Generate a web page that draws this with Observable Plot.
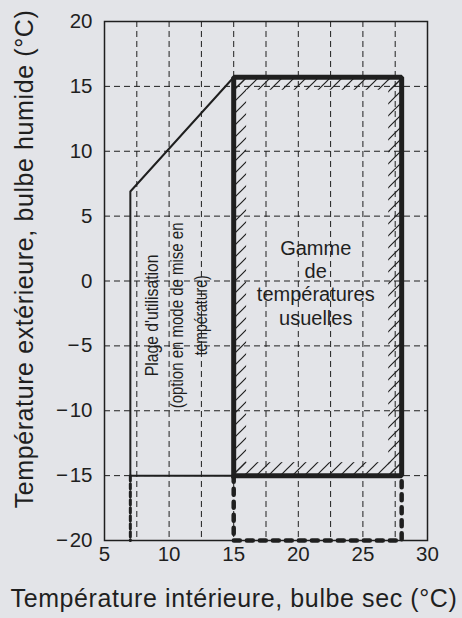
<!DOCTYPE html>
<html><head><meta charset="utf-8">
<script src="https://cdn.jsdelivr.net/npm/d3@7"></script>
<script src="https://cdn.jsdelivr.net/npm/@observablehq/plot@0.6"></script>
<style>
html,body{margin:0;padding:0;background:#e3e4e8;}
#chart svg{display:block;}
</style></head><body><div id="chart"></div>
<script>
// ---- data ----
const xTicks = [5, 10, 15, 20, 25, 30];
const yTicks = [-20, -15, -10, -5, 0, 5, 10, 15, 20];
const gridX = [7.5, 10, 12.5, 15, 17.5, 20, 22.5, 25, 27.5];
const gridY = [-15, -10, -5, 0, 5, 10, 15];
// operating range (thin outline)
const operX = [15, 7, 7, 15];
const operY = [-15, -15, 6.9, 15.7];
// usual range (thick rectangle)
const usualX = [15, 15, 28, 28, 15];
const usualY = [-15, 15.7, 15.7, -15, -15];
// extension below -15 (thick dashed)
const extX = [15, 15, 28, 28];
const extY = [-15, -20, -20, -15];
const operExtX = [7, 7];
const operExtY = [-15, -20];
const hatchBand = 1;
const usualLabel = ["Gamme", "de", "températures", "usuelles"];
const usualLabelAt = [21.35, -0.1];
const plageLabel = ["Plage d'utilisation", "(option en mode de mise en", "température)"];
const plageLabelAt = [10.6, -2.65];
const xTitle = "Température intérieure, bulbe sec (°C)";
const yTitle = "Température extérieure, bulbe humide (°C)";

// ---- style ----
const ink = "#1f1f1f";
const bg = "#e3e4e8";
const plageLengths = [122, 186, 80];
const plageSpacing = 24.5;
const hatchStep = 12;
const fmtTick = d => d < 0 ? "\u2212\u200A" + Math.abs(d) : String(d);

const pts = (xs, ys) => xs.map((x, i) => ({x, y: ys[i]}));
const x0 = d3.min(usualX), x1 = d3.max(usualX), y0 = d3.min(usualY), y1 = d3.max(usualY);
const bands = [
  {x1: x0, x2: x0 + hatchBand, y1: y0, y2: y1},
  {x1: x1 - hatchBand, x2: x1, y1: y0, y2: y1},
  {x1: x0, x2: x1, y1: y1 - hatchBand, y2: y1},
  {x1: x0, x2: x1, y1: y0, y2: y0 + hatchBand}
];

const plageMarks = plageLabel.map((t, i) =>
  Plot.text([{t, x: plageLabelAt[0], y: plageLabelAt[1]}],
    {x: "x", y: "y", text: "t", fontSize: 18.5, rotate: -90, fill: ink,
     dx: (i - (plageLabel.length - 1) / 2) * plageSpacing, className: "plage" + i}));

const svg = Plot.plot({
  width: 462, height: 618,
  marginLeft: 104, marginRight: 35, marginTop: 21, marginBottom: 78,
  x: {domain: [5, 30]},
  y: {domain: [-20, 20]},
  style: {fontFamily: "'Liberation Sans', Arial, Helvetica, sans-serif", fontSize: "20px", color: ink, background: bg},
  marks: [
    Plot.ruleX(gridX, {stroke: ink, strokeWidth: 1, strokeDasharray: "6,4"}),
    Plot.ruleY(gridY, {stroke: ink, strokeWidth: 1, strokeDasharray: "6,4"}),
    Plot.rect(bands, {x1: "x1", x2: "x2", y1: "y1", y2: "y2", fill: "url(#hatch)"}),
    Plot.frame({stroke: ink, strokeWidth: 1.5}),
    Plot.line(pts(operX, operY), {x: "x", y: "y", stroke: ink, strokeWidth: 2}),
    Plot.line(pts(operExtX, operExtY), {x: "x", y: "y", stroke: ink, strokeWidth: 3, strokeDasharray: "5,3"}),
    Plot.line(pts(extX, extY), {x: "x", y: "y", stroke: ink, strokeWidth: 4.5, strokeDasharray: "6,7", strokeLinecap: "round", strokeLinejoin: "round"}),
    Plot.line(pts(usualX, usualY), {x: "x", y: "y", stroke: ink, strokeWidth: 5, strokeLinejoin: "miter", strokeLinecap: "square"}),
    Plot.text([{t: usualLabel.join("\n"), x: usualLabelAt[0], y: usualLabelAt[1]}],
      {x: "x", y: "y", text: "t", fontSize: 20, lineHeight: 1.17, fill: ink}),
    ...plageMarks,
    Plot.axisX(xTicks, {tickSize: 0, tickPadding: 6, fontSize: 20.5, label: null, fill: ink, tickFormat: fmtTick}),
    Plot.axisY(yTicks, {tickSize: 0, tickPadding: 12, fontSize: 20.5, label: null, fill: ink, tickFormat: fmtTick})
  ]
});

const s = d3.select(svg);
const h = hatchStep;
const pat = s.insert("defs", ":first-child").append("pattern")
  .attr("id", "hatch").attr("patternUnits", "userSpaceOnUse").attr("width", h).attr("height", h);
pat.append("path").attr("d", `M-1,1 l2,-2 M0,${h} l${h},-${h} M${h - 1},${h + 1} l2,-2`)
  .attr("stroke", ink).attr("stroke-width", 1.2).attr("fill", "none");

s.append("text").attr("x", 234).attr("y", 607).attr("text-anchor", "middle")
  .attr("font-size", 25).attr("letter-spacing", "0.6px").attr("fill", ink).text(xTitle);
s.append("text").attr("transform", "translate(33,259) rotate(-90)").attr("text-anchor", "middle")
  .attr("font-size", 25).attr("letter-spacing", "0.6px").attr("fill", ink).text(yTitle);

document.getElementById("chart").appendChild(svg);

// condensed rotated label lines: squeeze along the text direction
plageLabel.forEach((t, i) => {
  s.selectAll(".plage" + i + " text").each(function() {
    const natural = this.getComputedTextLength();
    const k = natural > 0 ? plageLengths[i] / natural : 1;
    const tr = this.getAttribute("transform") || "";
    this.setAttribute("transform", tr + ` scale(${k},1)`);
  });
});
</script></body></html>
